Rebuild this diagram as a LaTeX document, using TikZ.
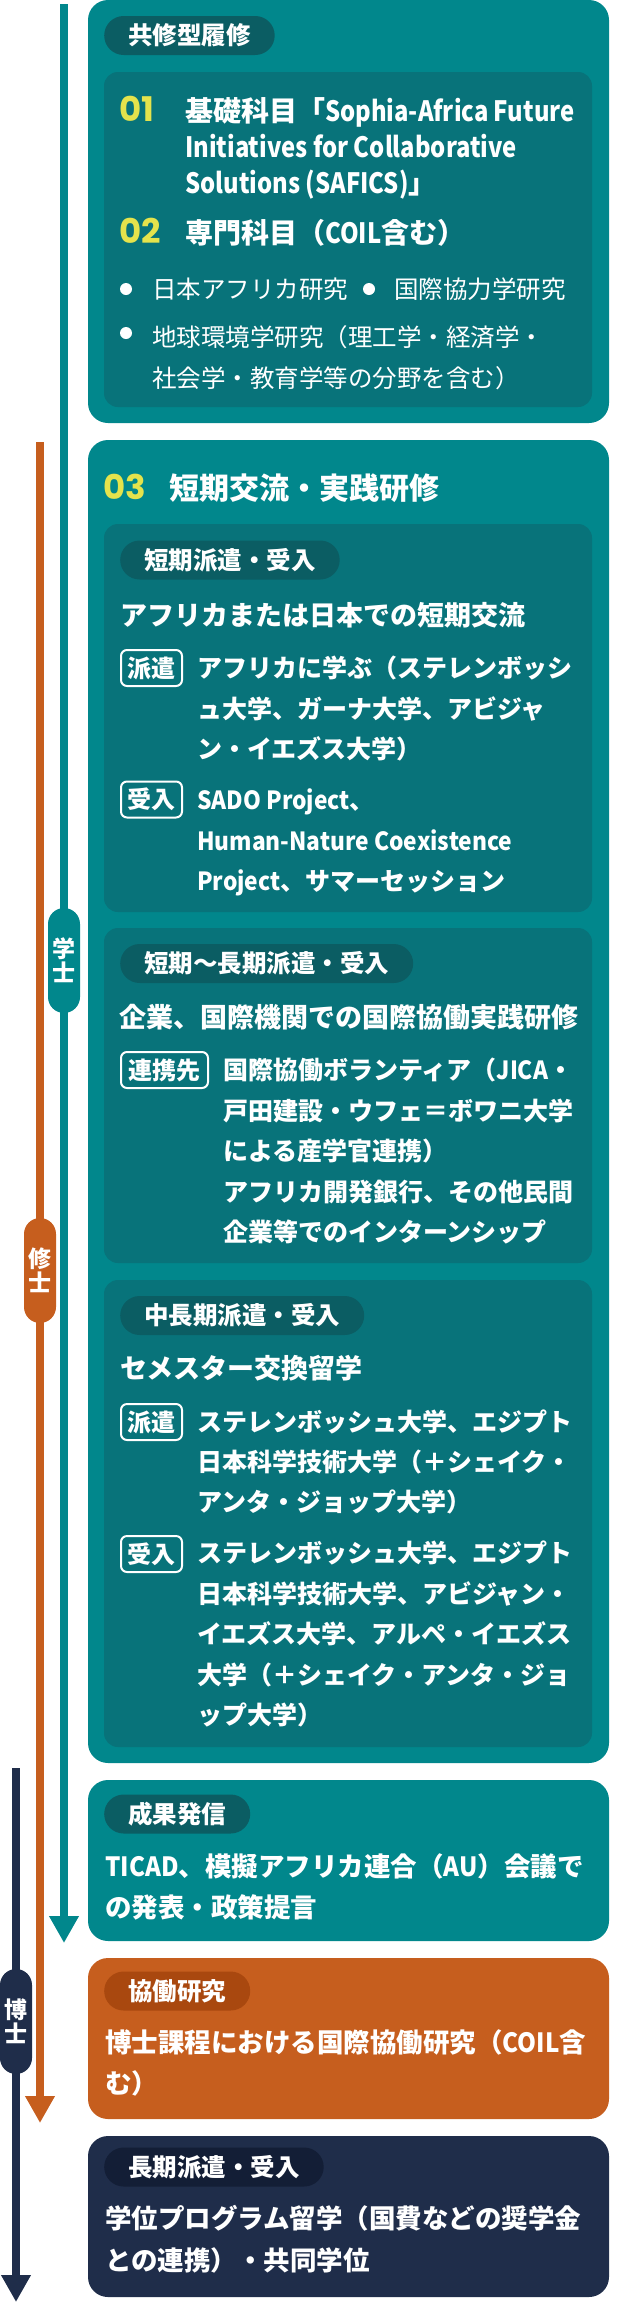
\documentclass[tikz,border=0pt]{standalone}
\usepackage{fontspec}
\setmainfont{Noto Sans CJK JP}
\newfontfamily\numfont{Poppins}
\newfontfamily\latfont[FakeStretch=0.85]{Noto Sans CJK JP}
\newfontfamily\lbtfont[FakeStretch=0.91]{Noto Sans CJK JP}
\usetikzlibrary{arrows.meta}
\definecolor{teal0}{HTML}{01878C}
\definecolor{teal1}{HTML}{08737A}
\definecolor{teal2}{HTML}{0B5D63}
\definecolor{ora0}{HTML}{C65E1E}
\definecolor{ora1}{HTML}{A9480F}
\definecolor{navy0}{HTML}{1F2D4A}
\definecolor{navy1}{HTML}{131E36}
\definecolor{yel}{HTML}{E4E34C}
\newcommand\setfs[1]{\fontsize{#1}{#1}\selectfont}
\newcommand\la[1]{{\latfont\bfseries #1}}
\newcommand\lb[1]{{\lbtfont\bfseries #1}}
\begin{document}
\begin{tikzpicture}[x=1pt,y=-1pt]
\tikzset{
  card/.style={fill=#1, rounded corners=20pt},
  panel/.style={fill=teal1, rounded corners=14pt},
  pill/.style={fill=#1, rounded corners=19.5pt, minimum height=39pt, inner xsep=24pt, inner ysep=0pt, anchor=west, text=white, font=\setfs{24.5}\bfseries},
  tag/.style={draw=white, line width=2pt, rounded corners=6pt, minimum height=36pt, inner xsep=5pt, inner ysep=0pt, text=white, font=\setfs{24}\bfseries},
  txt/.style={anchor=base west, inner sep=0pt, text=white},
  ttl/.style={txt, font=\setfs{28}\bfseries},
  head/.style={txt, font=\setfs{27}\bfseries},
  body/.style={txt, font=\setfs{25}\bfseries},
  plain/.style={txt, font=\setfs{24.5}},
  big/.style={txt, font=\setfs{26.5}\bfseries},
  num/.style={anchor=base west, inner sep=0pt, text=yel, font=\numfont\setfs{34}\bfseries},
  dot/.style={circle, fill=white, inner sep=0pt, minimum size=12pt},
  stage/.style={fill=#1, rounded corners=16pt, minimum width=32pt, minimum height=105pt, inner sep=0pt, text=white, align=center, font=\fontsize{23}{24}\selectfont\bfseries},
  tl/.style={draw=#1, line width=8pt, -{Triangle[length=27pt,width=28pt]}},
}
\useasboundingbox (0,0) rectangle (616,2310);

% timeline
\coordinate (gakuTop) at (64,4); \coordinate (gakuEnd) at (64,1943);
\coordinate (shuTop) at (40,442); \coordinate (shuEnd) at (40,2123);
\coordinate (hakuTop) at (16,1768); \coordinate (hakuEnd) at (16,2302);
\draw[tl=teal0] (gakuTop) -- (gakuEnd);
\draw[tl=ora0] (shuTop) -- (shuEnd);
\draw[tl=navy0] (hakuTop) -- (hakuEnd);
\node[stage=teal0] (gakushi) at (64,960.5) {学\\士};
\node[stage=ora0] (shushi) at (40,1270.5) {修\\士};
\node[stage=navy0] (hakushi) at (16,2021.5) {博\\士};

% kyoshu
\fill[card=teal0] (88,0) rectangle (609,423);
\fill[panel] (104,72) rectangle (592,407);
\node[pill=teal2] (kyoshu) at (104,35.5) {共修型履修};
\node[num] (n01) at (119,121.5) {01};
\foreach \row [count=\i from 0] in {{基礎科目「\la{Sophia-Africa Future}},{\la{Initiatives for Collaborative}},{\la{Solutions (SAFICS)}」}}
  \node[ttl] (kiso\i) at (185,121.5+36*\i) {\row};
\node[num] (n02) at (119,243) {02};
\node[ttl] (senmon) at (185,243) {専門科目（\la{COIL}含む）};
\node[dot] (d1) at (126,289) {};
\node[plain] (nihon) at (152,298) {日本アフリカ研究};
\node[dot] (d2) at (369,289) {};
\node[plain] (kyoryoku) at (394,298) {国際協力学研究};
\node[dot] (d3) at (126,333) {};
\node[plain] (chikyu0) at (152,346) {地球環境学研究（理工学・経済学・};
\node[plain] (chikyu1) at (152,387) {社会学・教育学等の分野を含む）};

% tanki
\fill[card=teal0] (88,440) rectangle (609,1763);
\node[num] (n03) at (103,499.5) {03};
\node[ttl, font=\setfs{30}\bfseries] (tanki) at (169,499.5) {短期交流・実践研修};

\fill[panel] (104,524) rectangle (592,912);
\node[pill=teal2] (p1) at (120,560) {短期派遣・受入};
\node[head] (h1) at (120,625) {アフリカまたは日本での短期交流};
\node[tag, minimum width=61pt] (haken1) at (151.5,668) {派遣};
\foreach \row [count=\i from 0] in {{アフリカに学ぶ（ステレンボッシ},{ュ大学、ガーナ大学、アビジャ},{ン・イエズス大学）}}
  \node[body] (hk1\i) at (197,677.5+40.5*\i) {\row};
\node[tag, minimum width=61pt] (ukeire1) at (151.5,799.5) {受入};
\foreach \row [count=\i from 0] in {{\lb{SADO Project}、},{\lb{Human-Nature Coexistence}},{\lb{Project}、サマーセッション}}
  \node[body] (uk1\i) at (197,809.5+40.5*\i) {\row};

\fill[panel] (104,928) rectangle (592,1263);
\node[pill=teal2] (p2) at (120,963.5) {短期〜長期派遣・受入};
\node[head] (h2) at (119,1027.5) {企業、国際機関での国際協働実践研修};
\node[tag, minimum width=87pt] (renkei) at (164.5,1070) {連携先};
\foreach \row [count=\i from 0] in {{国際協働ボランティア（\lb{JICA}・},{戸田建設・ウフェ＝ボワニ大学},{による産学官連携）},{アフリカ開発銀行、その他民間},{企業等でのインターンシップ}}
  \node[body] (rk\i) at (223,1079.5+40.5*\i) {\row};

\fill[panel] (104,1280) rectangle (592,1747);
\node[pill=teal2] (p3) at (120,1315.5) {中長期派遣・受入};
\node[head] (h3) at (120,1378) {セメスター交換留学};
\node[tag, minimum width=61pt] (haken3) at (151.5,1422) {派遣};
\foreach \row [count=\i from 0] in {{ステレンボッシュ大学、エジプト},{日本科学技術大学（＋シェイク・},{アンタ・ジョップ大学）}}
  \node[body] (hk3\i) at (197,1431.5+40*\i) {\row};
\node[tag, minimum width=61pt] (ukeire3) at (151.5,1554) {受入};
\foreach \row [count=\i from 0] in {{ステレンボッシュ大学、エジプト},{日本科学技術大学、アビジャン・},{イエズス大学、アルペ・イエズス},{大学（＋シェイク・アンタ・ジョ},{ップ大学）}}
  \node[body] (uk3\i) at (197,1562.5+40.5*\i) {\row};

% seika
\fill[card=teal0] (88,1780) rectangle (609,1941);
\node[pill=teal2] (p4) at (104,1814) {成果発信};
\node[big] (seika0) at (105,1876.5) {\lb{TICAD}、模擬アフリカ連合（\lb{AU}）会議で};
\node[big] (seika1) at (105,1917) {の発表・政策提言};

% kyodo
\fill[card=ora0] (88,1958) rectangle (609,2119);
\node[pill=ora1] (p5) at (104,1991) {協働研究};
\node[big] (kyodo0) at (105,2052) {博士課程における国際協働研究（\lb{COIL}含};
\node[big] (kyodo1) at (105,2093) {む）};

% choki
\fill[card=navy0] (88,2136) rectangle (609,2297);
\node[pill=navy1] (p6) at (104,2167) {長期派遣・受入};
\node[big] (choki0) at (105,2228) {学位プログラム留学（国費などの奨学金};
\node[big] (choki1) at (105,2270) {との連携）・共同学位};
\end{tikzpicture}
\end{document}
